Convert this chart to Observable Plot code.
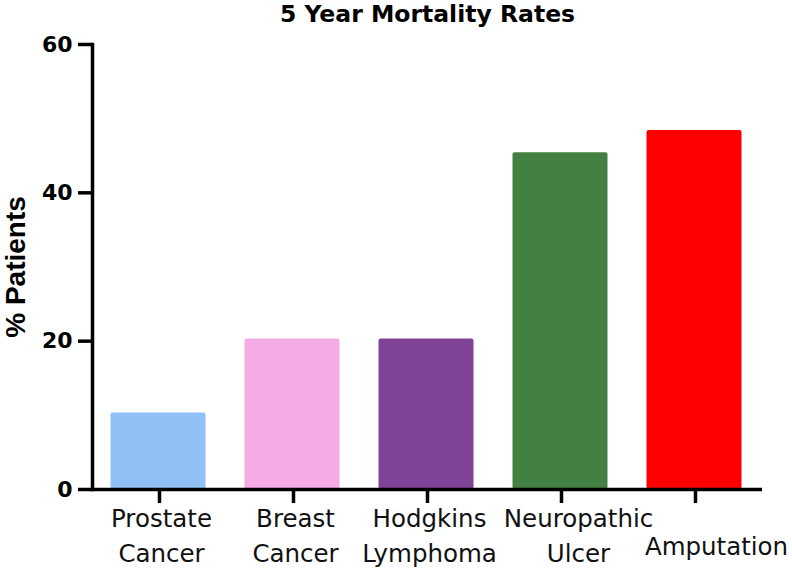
<!DOCTYPE html>
<html>
<head>
<meta charset="utf-8">
<script src="https://cdn.jsdelivr.net/npm/d3@7"></script>
<script src="https://cdn.jsdelivr.net/npm/@observablehq/plot@0.6"></script>
<style>
  html, body { margin: 0; padding: 0; background: #fff; }
</style>
</head>
<body>
<div id="chart"></div>
<script>
const title = "5 Year Mortality Rates";
const yLabel = "% Patients";
const categories = ["Prostate Cancer", "Breast Cancer", "Hodgkins Lymphoma", "Neuropathic Ulcer", "Amputation"];
const tickLabels = ["Prostate\nCancer", "Breast\nCancer", "Hodgkins\nLymphoma", "Neuropathic\nUlcer", "Amputation"];
const values = [10.3, 20.3, 20.3, 45.4, 48.4];
const colors = ["#91c0f7", "#f5abe5", "#804296", "#438143", "#fe0000"];
const yTicks = [0, 20, 40, 60];

const data = categories.map((c, i) => ({category: c, value: values[i], color: colors[i], label: tickLabels[i]}));

const labelFont = {fontFamily: "DejaVu Sans", fontSize: 24.5, fill: "#111", lineHeight: 1.445, lineAnchor: "top", textAnchor: "middle"};

const chart = Plot.plot({
  width: 792,
  height: 571,
  marginLeft: 92,
  marginRight: 30,
  marginTop: 44,
  marginBottom: 82,
  style: {fontFamily: "DejaVu Sans", color: "black", background: "white"},
  x: {domain: categories, padding: 0, label: null},
  y: {domain: [0, 60], label: null},
  color: {type: "identity"},
  marks: [
    Plot.barY(data, {x: "category", y: "value", fill: "color", insetLeft: 18.5, insetRight: 20.5, rx: 2}),
    Plot.ruleY([0], {stroke: "black", strokeWidth: 3.5}),
    Plot.frame({anchor: "left", stroke: "black", strokeWidth: 3.5}),
    Plot.axisY({ticks: yTicks, tickSize: 14, tickPadding: 6, strokeWidth: 3.5, fontSize: 22, fontWeight: "bold", label: null}),
    Plot.axisX({tickSize: 14, strokeWidth: 3.5, tickFormat: () => "", label: null}),
    Plot.text(data.slice(0, 3), {x: "category", y: 0, text: "label", dx: 2, dy: 12, ...labelFont}),
    Plot.text(data.slice(3, 4), {x: "category", y: 0, text: "label", dx: 17, dy: 12, ...labelFont}),
    Plot.text(data.slice(4), {x: "category", y: 0, text: "label", dx: 21, dy: 40, ...labelFont}),
    Plot.text([title], {frameAnchor: "top", text: d => d, dy: -30, lineAnchor: "middle", fontSize: 23.5, fontWeight: "bold", fill: "black"}),
    Plot.text([yLabel], {frameAnchor: "left", text: d => d, dx: -76.5, rotate: -90, lineAnchor: "middle", textAnchor: "middle", fontFamily: "Liberation Sans", fontSize: 28, fontWeight: "bold", fill: "black"})
  ]
});
document.getElementById("chart").appendChild(chart);
</script>
</body>
</html>
